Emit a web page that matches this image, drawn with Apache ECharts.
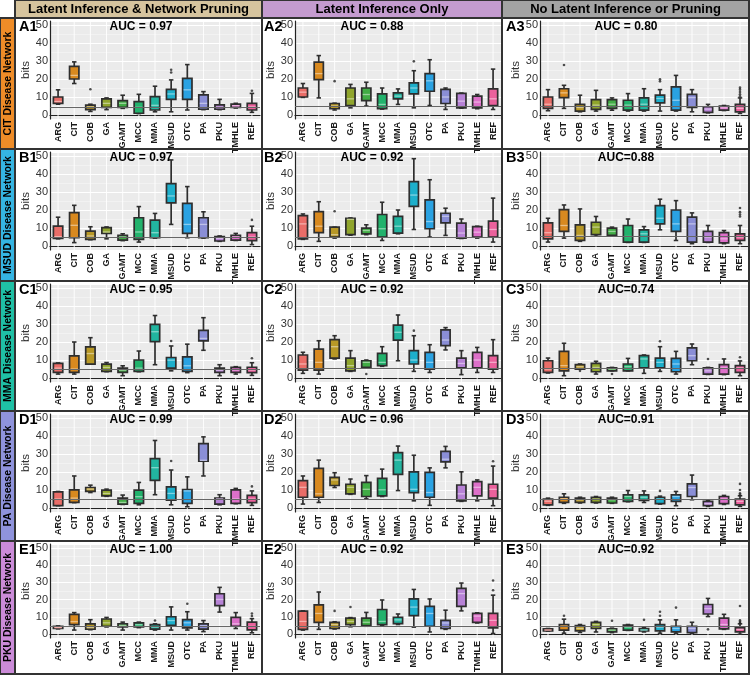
<!DOCTYPE html>
<html><head><meta charset="utf-8">
<script src="https://cdn.jsdelivr.net/npm/echarts@6/dist/echarts.min.js"></script>
<style>html,body{margin:0;padding:0;background:#fff}#c{width:750px;height:675px}</style>
</head><body><div id="c"></div><script>
const categories = ['ARG','CIT','COB','GA','GAMT','MCC','MMA','MSUD','OTC','PA','PKU','TMHLE','REF'];
const colHeaders = ['Latent Inference & Network Pruning','Latent Inference Only','No Latent Inference or Pruning'];
const rowHeaders = ['CIT Disease Network','MSUD Disease Network','MMA Disease Network','PA Disease Network','PKU Disease Network'];
const panelLabels = ['A1','A2','A3','B1','B2','B3','C1','C2','C3','D1','D2','D3','E1','E2','E3'];
const aucTexts = ['AUC = 0.97','AUC = 0.88','AUC = 0.80','AUC = 0.97','AUC = 0.92','AUC=0.88','AUC = 0.95','AUC = 0.92','AUC=0.74','AUC = 0.99','AUC = 0.96','AUC=0.91','AUC = 1.00','AUC = 0.92','AUC=0.92'];
const thresholds = [4.5,5,5, 5,5,5.5, 5,5.5,5.5, 5,5,4.8, 4.5,4.5,4.5];
const yTicks = [0,10,20,30,40,50];

// box stats per category: [min, q1, median, q3, max]
const boxA1 = [[6,6.5,7.5,10,14],[17.5,20,22,27,29.5],[2,3,4.5,5.5,6],[3,4.3,6.5,9,9.5],[3.7,4.3,6.5,8,11],[0.8,1,4.3,7.4,11.5],[1.8,2.8,5.4,10.2,16],[1.8,8.7,11.7,14.3,19.5],[2.8,8.7,14,20.4,28],[3,3.2,6.5,11.2,13],[3,3.2,4.3,5.6,8.7],[3.9,4.3,5.2,6.1,6.5],[1.5,2.8,4.5,6.5,12]];
const outA1 = [['COB',14.3],['MSUD',23.6],['MSUD',25.1],['REF',13.5]];
const boxA2 = [[9.8,10,12.7,15,17.5],[9.5,19.7,23,29.4,33],[2.8,3.5,5,6.4,6.6],[4,5.3,9,15,17],[5,8,11.4,15,18.2],[3.3,3.6,5.9,11.8,15],[5.9,9,10.5,12.3,14.5],[4,11.8,15,17.8,24.6],[5.3,13.2,19,23,30.7],[3.1,6.4,10,14.2,15],[3.8,4,7.7,12,12.2],[3.5,4,7.2,10.5,11.4],[3.1,5.3,9,14.5,25.5]];
const outA2 = [['COB',18.8],['MSUD',29.8]];
const boxA3 = [[2.4,3.7,6,10,14.1],[3.7,9.7,12.3,14.6,16.5],[1.8,2.2,4.2,5.9,11],[2.2,3.1,5.5,8.6,13.7],[2.7,3.7,6,8.6,9.5],[2.2,2.7,5.5,8.2,11.9],[2.2,2.7,6,9.5,14.6],[2.2,6.8,9.2,11,14.1],[2.2,2.7,8.2,15.6,22],[1.8,4.2,9.7,11.5,14.1],[1.2,1.5,3.3,4.6,5.9],[2.5,2.7,4,5,5.3],[0.9,1.8,3.7,5.9,9.5]];
const outA3 = [['CIT',27.8],['MSUD',18.7],['MSUD',19.8],['REF',10.4],['REF',11.5],['REF',12.8],['REF',14.1],['REF',15.2]];
const boxB1 = [[4,4.3,5.2,11.1,16],[1.9,4.6,11.5,18.5,22.6],[3.5,3.7,5.6,8.3,10.7],[4,7,7.8,10.2,10.6],[3,3.3,5,5.9,6.8],[2.2,3.7,7.8,15.7,21.9],[4.4,4.6,7.4,14.4,18.1],[12,24,27.8,34.6,47.8],[4.6,7,12,23.7,33],[4.4,4.6,12,15.7,19],[2.6,2.8,4.3,5.2,5.6],[3.1,3.3,5,5.9,7],[0.8,3,5,7.5,11]];
const outB1 = [['REF',14.5]];
const boxB2 = [[3.7,4,12.3,16.9,17.8],[2.6,7.4,11,19.1,24.6],[4.4,5,6.3,10.5,10.5],[6,6.3,14.8,15.4,15.6],[6.3,6.8,8.6,9.9,11.8],[3.1,5,9.6,17.5,24.3],[6.8,7.2,11,16.5,20],[9.2,22,28.3,35.8,48.5],[5,9.6,13.6,25.6,36.8],[5.9,12.9,16.5,18.2,21],[4.2,4.4,7.2,12.7,15],[4.4,5,7.7,10.8,11],[2.2,5,9.2,13.8,26.6]];
const outB2 = [['COB',19.3]];
const boxB3 = [[2.2,4,7.4,12.9,15.4],[4.4,8.1,11.4,20.2,22.8],[2.6,3.1,5.9,11.8,20.6],[5.5,6.3,10.5,13.2,16.4],[5.5,5.9,8.1,9.9,10.5],[2,2.2,5.3,11.4,15],[2,2.2,6.8,9,10.8],[9,12.3,15.4,22.4,26],[3.1,8.1,12.3,20,25.2],[1.3,2.2,12.3,16,18.4],[2,2.2,5,8.1,11.4],[1.3,1.8,4,7.4,8.6],[1.3,3.1,5,6.8,11.4]];
const outB3 = [['REF',16.4],['REF',17.5],['REF',18.8],['REF',21.1]];
const boxC1 = [[2.2,3.1,5.5,8.1,8.4],[2.2,3.1,5,12.3,20],[7.7,7.7,13.6,17.3,22.4],[3.5,3.7,5.9,7.7,8.6],[1.3,3.1,4.4,5.5,6.8],[3.5,3.7,5.5,10,15],[7.4,20.2,25.7,29.8,34.7],[4,5.5,9.9,11.4,17.8],[3,3.7,6.8,11.8,18.8],[15.4,20.6,22,26.5,33.5],[1.3,3.1,4.4,5.5,7.4],[2.2,3.1,4.6,5.9,6.3],[1.5,3,4.5,6,8.5]];
const outC1 = [['MSUD',20.6],['REF',11]];
const boxC2 = [[2.6,4.4,7.8,12.8,14.3],[2.2,4.4,8.7,16.1,20.7],[10.6,11.1,17.4,21.3,23.5],[3.7,4,6.9,11.1,15.2],[5.9,5.9,8.7,9.6,10],[6.5,6.9,8.7,13.7,17.4],[9.6,21.1,25.4,29.4,35],[3.7,7.8,10,15.2,23.5],[3.1,5,8.7,14.3,18.5],[15.6,18,21.1,26.7,28],[1.9,5.6,8.1,11.1,15.2],[3.1,5.6,10,14.3,17],[3.1,5,8.7,12.4,21.3]];
const outC2 = [['GAMT',2.2],['MSUD',26.3]];
const boxC3 = [[2.8,3.1,5,9.6,11.1],[1.3,4,6.9,14.8,19.3],[5,5,6.3,7.4,7.8],[2.2,3.5,5.9,8.1,9.3],[4,4,5,5.6,5.9],[4,4,6.3,7.8,10.9],[2.6,5.6,10.6,12.4,12.8],[3.7,5.6,8.7,11.1,17.4],[2.2,3.5,7.8,10.9,14.8],[7.4,9.6,12.4,16.7,18.9],[2,2.2,4,5.6,5.9],[1.9,2.2,5.6,7.4,10.6],[1.3,3.1,5.6,6.9,9.5]];
const outC3 = [['COB',4],['GAMT',2.2],['MSUD',20.4],['PKU',10.6],['REF',11.5]];
const boxD1 = [[1.3,1.3,5,9,9.2],[3,3.1,5.5,10.1,17.8],[8.6,9.2,10.5,11.4,12.7],[6.5,6.8,8.1,9.9,10.5],[2,2.2,3.1,5.5,7.2],[1.8,2.6,6.3,9.9,14.2],[7.4,15.4,22.4,27.4,37.5],[1.8,4.4,8.1,11.8,21.1],[0.7,2.6,9.5,10.3,17.3],[17.8,26,26.5,35.8,39.5],[1.8,2.2,5,5.5,7.4],[2.4,2.6,5,10.1,10.9],[1.5,3,5,7,9.5]];
const outD1 = [['MSUD',26.1],['REF',12]];
const boxD2 = [[2.2,6,11.5,15.2,17.8],[3.1,6,7.9,22,26.6],[11.4,12.5,15.6,17,19.6],[7.6,7.9,11.5,13.2,16.1],[5.1,6.4,10.4,14.3,18],[6.4,6.8,10.1,16.5,21.6],[9.7,18.7,26.6,30.8,34.4],[4,8.6,10.4,20.1,29.3],[1.5,6,8.6,19.8,22.3],[22.3,25.6,27.1,31.5,34.2],[3.7,4,7.9,12.8,20.1],[4,6.8,11.5,14.7,15.6],[1.3,5.5,10.4,13.2,23.3]];
const outD2 = [['REF',26]];
const boxD3 = [[1.5,1.8,3.8,4.9,5.5],[2.6,3.1,5.1,6,7.9],[2.8,3.1,4.6,5.5,6],[2.8,3.1,4.9,5.9,6.4],[2.6,2.8,4.6,5.5,6],[3.5,3.7,6.4,7.3,9.7],[3.1,4.2,6,7.3,9.5],[2.2,2.4,4.9,6,6.6],[1.3,3.7,6.4,7.3,9.2],[4.6,6.4,11.4,13.4,18.3],[0.9,1.3,2.4,3.7,4],[2,2.4,4.9,6.4,7],[0.9,1.8,3.7,4.9,6.8]];
const outD3 = [['MSUD',9.5],['REF',7.5],['REF',8.2],['REF',10],['REF',13.4]];
const boxE1 = [[3.1,3.3,3.8,4.6,4.8],[2.4,5.5,7.3,11.5,12.5],[2.6,2.9,3.8,6,8.4],[4.2,4.6,6.6,8.8,9.7],[2.4,4.2,5.1,6,7],[3.8,4.2,5.5,6.6,7],[2.4,2.9,4.2,5.5,6],[2.4,5.1,7.9,10.1,15.8],[2.4,3.7,6.6,8.4,13],[1.5,2.9,4.8,6,7.9],[12.8,16.5,20.1,23.4,27.1],[3.3,4.6,6,9.7,12.5],[0.8,2.5,4.5,7,9]];
const outE1 = [['MMA',7.9],['OTC',17.6],['REF',10.5],['REF',12]];
const boxE2 = [[2.4,2.8,7.4,13.3,13.5],[2.8,6.9,12,17,24.4],[3,3.3,5.6,6.9,7.2],[4.3,5.6,7.4,9.3,9.6],[4.6,5,6.9,9.3,12.6],[5.2,5.6,7.4,14.3,19.8],[5.6,6.1,8.3,9.8,11.7],[4.1,10.7,15.7,20.4,25.9],[1.3,4.6,12,16.1,20.4],[2.8,3.3,6.5,8,13.9],[13.5,16.1,23.5,26.5,29.6],[6.5,6.9,10.5,12,12.4],[0.4,3.7,8,12,22.6]];
const outE2 = [['COB',13.5],['GA',15.7],['REF',25.4],['REF',31.1]];
const boxE3 = [[1.8,1.9,2.4,3.1,3.3],[0.6,2.4,4.6,5.6,8.7],[1,1.9,3.3,5,5.6],[1.3,3.3,5.6,6.9,7.4],[0.9,1.3,2.4,3.1,3.5],[2.2,2.4,4.1,5.2,5.6],[1.3,1.9,2.4,3.3,3.7],[0.6,1.9,4.1,5.6,8.3],[0.6,1.3,3.3,4.6,8.3],[0.6,0.9,3.3,4.6,6.9],[10.2,11.7,14.8,17.2,20.7],[2.8,3.1,5.6,9.3,11.5],[0,1.3,2.8,3.7,6]];
const outE3 = [['CIT',10.7],['GAMT',7.8],['MMA',8.3],['MSUD',10.7],['MSUD',13],['OTC',15.4],['PKU',2.8],['REF',6.5],['REF',7.2],['REF',8],['REF',16.3]];

const boxes = [boxA1,boxA2,boxA3,boxB1,boxB2,boxB3,boxC1,boxC2,boxC3,boxD1,boxD2,boxD3,boxE1,boxE2,boxE3];
const outliers = [outA1,outA2,outA3,outB1,outB2,outB3,outC1,outC2,outC3,outD1,outD2,outD3,outE1,outE2,outE3];

// styling
const boxColors = ['#E96D68','#D8891F','#B89826','#90A52C','#41AC45','#22B26C','#22B5A0','#1DAFCB','#2AA2E2','#8A8ED6','#B782D6','#DD70C9','#EB619C'];
const headerColors = ['#D6C49E','#C49BCF','#A3A3A3'];
const stripColors = ['#EE8C28','#35B5E3','#1FC0A5','#8F93DC','#CB8BD8'];
const colLeft = [50,295,540], colWidth = [210,206,208];
const cellX = [[15,262],[262,502],[502,749]];
const rowTop = [18,149,281,411,541], rowBottom = [149,281,411,541,674];
const aucX = [141,372,626], labelX = [19,264,506];
const gridH = 98;

function mix(hex,t){const n=parseInt(hex.slice(1),16);let r=n>>16,g=(n>>8)&255,b=n&255;
  r=Math.round(r+(255-r)*t);g=Math.round(g+(255-g)*t);b=Math.round(b+(255-b)*t);return 'rgb('+r+','+g+','+b+')';}

function renderBox(params, api){
  const k = api.value(0);
  const pts = [1,2,3,4,5].map(d=>api.coord([k, api.value(d)]));
  const cx = pts[0][0];
  const band = api.size([1,0])[0];
  const bw = band*0.58, cw = band*0.28;
  const cs = params.coordSys;
  const col = boxColors[k];
  const st = '#2e2e2e';
  return {type:'group', children:[
    {type:'line', shape:{x1:cx,y1:cs.y,x2:cx,y2:cs.y+cs.height}, style:{stroke:'#fff',lineWidth:0.9}},
    {type:'line', shape:{x1:cx,y1:pts[0][1],x2:cx,y2:pts[1][1]}, style:{stroke:st,lineWidth:1.7}},
    {type:'line', shape:{x1:cx,y1:pts[3][1],x2:cx,y2:pts[4][1]}, style:{stroke:st,lineWidth:1.7}},
    {type:'line', shape:{x1:cx-cw/2,y1:pts[0][1],x2:cx+cw/2,y2:pts[0][1]}, style:{stroke:st,lineWidth:1.6}},
    {type:'line', shape:{x1:cx-cw/2,y1:pts[4][1],x2:cx+cw/2,y2:pts[4][1]}, style:{stroke:st,lineWidth:1.6}},
    {type:'rect', shape:{x:cx-bw/2,y:pts[3][1],width:bw,height:Math.max(pts[1][1]-pts[3][1],1)}, style:{fill:col,stroke:st,lineWidth:1.7}},
    {type:'line', shape:{x1:cx-bw/2+1,y1:pts[2][1],x2:cx+bw/2-1,y2:pts[2][1]}, style:{stroke:mix(col,0.45),lineWidth:1.3}}
  ]};
}

const grids=[], xAxes=[], yAxes=[], series=[], graphics=[];
boxes.forEach((bx,i)=>{
  const r=Math.floor(i/3), c=i%3;
  const top=rowTop[r]+3;
  grids.push({left:colLeft[c],top:top,width:colWidth[c],height:gridH,show:true,backgroundColor:'#EBEBEB',borderWidth:0});
  xAxes.push({gridIndex:i,type:'category',data:categories,boundaryGap:true,
    axisLine:{show:true,lineStyle:{color:'#222',width:1.2}},axisTick:{show:false},splitLine:{show:false},
    axisLabel:{interval:0,rotate:90,fontSize:9,fontWeight:'bold',color:'#1a1a1a',margin:3,fontFamily:'Arial'}});
  yAxes.push({gridIndex:i,type:'value',min:-2.2,max:52.2,splitNumber:5,
    axisLine:{show:true,lineStyle:{color:'#222',width:1.2}},axisTick:{show:false},
    axisLabel:{color:'#333',fontSize:11,margin:2,fontFamily:'Arial',showMinLabel:false,showMaxLabel:false,
      formatter:v=>yTicks.indexOf(v)>=0?String(v):''},
    splitLine:{show:true,lineStyle:{color:'#fff',width:1}},
    minorTick:{show:false,splitNumber:2},minorSplitLine:{show:true,lineStyle:{color:'#F6F6F6',width:0.6}},
    name:'bits',nameLocation:'middle',nameGap:14,nameTextStyle:{color:'#333',fontSize:11.5,fontFamily:'Arial'}});
  series.push({type:'custom',xAxisIndex:i,yAxisIndex:i,renderItem:renderBox,z:3,silent:true,
    encode:{x:0,y:[1,2,3,4,5]},data:bx.map((b,k)=>[k].concat(b))});
  series.push({type:'scatter',xAxisIndex:i,yAxisIndex:i,z:5,silent:true,symbolSize:2.6,
    itemStyle:{color:'#222'},data:outliers[i].map(o=>[categories.indexOf(o[0]),o[1]]),
    markLine:{silent:true,symbol:'none',label:{show:false},lineStyle:{color:'#666',width:1.1,type:'solid'},
      data:[{yAxis:thresholds[i]}]}});
  graphics.push({type:'text',x:labelX[c],y:top+6,z:50,style:{text:panelLabels[i],font:'bold 14.5px Arial',fill:'#000',
    textAlign:'left',textVerticalAlign:'middle',align:'left',verticalAlign:'middle'}});
  graphics.push({type:'text',x:aucX[c],y:top+6,z:50,style:{text:aucTexts[i],font:'bold 12px Arial',fill:'#000',
    textAlign:'center',textVerticalAlign:'middle',align:'center',verticalAlign:'middle'}});
});
// headers
colHeaders.forEach((h,c)=>{
  graphics.push({type:'rect',z:40,shape:{x:cellX[c][0],y:0,width:cellX[c][1]-cellX[c][0],height:18},style:{fill:headerColors[c],stroke:'#333',lineWidth:2}});
  graphics.push({type:'text',z:41,x:(cellX[c][0]+cellX[c][1])/2,y:9.5,style:{text:h,font:'bold 13px Arial',fill:'#000',
    textAlign:'center',textVerticalAlign:'middle',align:'center',verticalAlign:'middle'}});
});
rowHeaders.forEach((h,r)=>{
  graphics.push({type:'rect',z:40,shape:{x:0,y:rowTop[r],width:15,height:rowBottom[r]-rowTop[r]},style:{fill:stripColors[r],stroke:'#333',lineWidth:2}});
  graphics.push({type:'text',z:41,x:8,y:(rowTop[r]+rowBottom[r])/2,rotation:Math.PI/2,style:{text:h,font:'bold 10.5px Arial',fill:'#000',
    textAlign:'center',textVerticalAlign:'middle',align:'center',verticalAlign:'middle'}});
  cellX.forEach(cx=>{
    graphics.push({type:'rect',z:39,shape:{x:cx[0],y:rowTop[r],width:cx[1]-cx[0],height:rowBottom[r]-rowTop[r]},style:{fill:'none',stroke:'#333',lineWidth:2}});
  });
});

const chart = echarts.init(document.getElementById('c'),null,{renderer:'canvas'});
chart.setOption({animation:false,backgroundColor:'#fff',grid:grids,xAxis:xAxes,yAxis:yAxes,series:series,graphic:graphics});
</script></body></html>
